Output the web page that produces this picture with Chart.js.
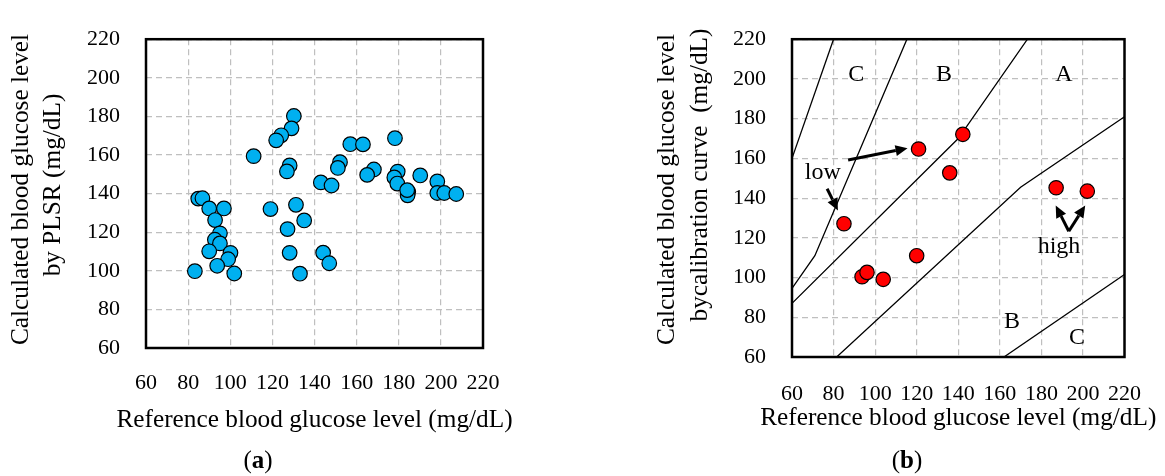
<!DOCTYPE html>
<html><head><meta charset="utf-8">
<script src="https://cdn.jsdelivr.net/npm/chart.js@4.4.1/dist/chart.umd.min.js"></script>
<style>
html,body{margin:0;padding:0;background:#fff;overflow:hidden;}
#cA{position:absolute;left:0;top:0;}
#cB{position:absolute;left:620px;top:0;}
</style></head><body>
<canvas id="cA" width="590" height="476"></canvas>
<canvas id="cB" width="545" height="476"></canvas>
<script>
// ---------- data ----------
const tickValues = [60, 80, 100, 120, 140, 160, 180, 200, 220];

// (a) PLSR vs reference
const plsrRefX = [130.2,129.1,124.2,121.8,111.1,157.0,163.0,178.2,128.2,126.9,152.1,151.1,143.0,148.1,168.2,165.0,179.5,177.9,179.3,190.2,198.3,184.5,184.2,184.0,198.3,201.6,207.3,84.8,86.8,90.0,97.0,119.1,131.2,92.8,135.1,127.2,95.1,92.7,95.1,90.0,100.1,99.0,93.8,83.2,101.9,128.2,144.1,147.0,133.1];
const plsrCalcY = [180.2,173.8,170.2,167.6,159.4,165.6,165.5,168.7,154.6,151.5,156.3,153.3,145.8,144.2,152.5,149.7,151.4,148.4,145.2,149.4,146.3,140.9,139.1,141.8,140.3,140.3,139.8,137.4,137.6,132.3,132.3,132.0,134.2,126.3,126.1,121.6,119.4,116.1,114.2,110.1,109.3,106.0,102.6,99.8,98.6,109.3,109.4,103.9,98.5];

// (b) calibration curve vs reference
const calibRefX = [120.9,142.2,135.9,187.1,202.1,85.0,120.0,93.7,96.1,103.9];
const calibCalcY = [164.7,172.1,152.7,145.2,143.5,127.1,111.0,100.4,102.6,99.1];

// error-grid zone boundaries (reference, calculated)
const cdUpperX = [60, 80];        const cdUpperY = [160, 220];
const bcUpperX = [60, 71, 115.3]; const bcUpperY = [94.5, 111, 220];
const abUpperX = [60, 140, 173.3];const abUpperY = [87, 170, 220];
const abLowerX = [81.5, 170, 220];const abLowerY = [60, 145.5, 181];
const bcLowerX = [162, 220];      const bcLowerY = [60, 101.5];

const zoneLabels = ['C', 'B', 'A', 'B', 'C'];
const noteLabels = ['low', 'high'];

const xTitle = 'Reference blood glucose level (mg/dL)';
const yTitleA = ['Calculated blood glucose level', 'by PLSR (mg/dL)'];
const yTitleB = ['Calculated blood glucose level', 'bycalibration curve  (mg/dL)'];

// ---------- helpers ----------
const FONT = "'Liberation Serif', 'Times New Roman', serif";
const toPts = (xs, ys) => xs.map((x, i) => ({x: x, y: ys[i]}));

function drawArrow(ctx, x1, y1, x2, y2) {
  const ang = Math.atan2(y2 - y1, x2 - x1);
  const hl = 12, hw = 5.5;
  const bx = x2 - hl * Math.cos(ang), by = y2 - hl * Math.sin(ang);
  ctx.beginPath(); ctx.moveTo(x1, y1); ctx.lineTo(bx, by);
  ctx.lineWidth = 3; ctx.strokeStyle = '#000'; ctx.stroke();
  ctx.beginPath();
  ctx.moveTo(x2, y2);
  ctx.lineTo(bx + hw * Math.sin(ang), by - hw * Math.cos(ang));
  ctx.lineTo(bx - hw * Math.sin(ang), by + hw * Math.cos(ang));
  ctx.closePath(); ctx.fillStyle = '#000'; ctx.fill();
}

const framePlugin = {
  id: 'frame',
  afterDraw(chart, args, opts) {
    const {ctx, chartArea: a} = chart;
    ctx.save();
    ctx.strokeStyle = '#000'; ctx.lineWidth = 2.5;
    ctx.strokeRect(a.left, a.top, a.right - a.left, a.bottom - a.top);
    ctx.fillStyle = '#000';
    // x axis title
    ctx.font = '25.3px ' + FONT; ctx.textAlign = 'center'; ctx.textBaseline = 'alphabetic';
    ctx.fillText(xTitle, (a.left + a.right) / 2, opts.xTitleBase);
    // y axis title (two lines)
    opts.yTitle.forEach((t, i) => {
      ctx.save();
      ctx.translate(opts.yTitleX[i], opts.yTitleY[i]);
      ctx.rotate(-Math.PI / 2);
      ctx.textBaseline = 'middle';
      ctx.fillText(t, 0, 0);
      ctx.restore();
    });
    // caption like (a)
    ctx.textBaseline = 'alphabetic';
    const reg = '25px ' + FONT, bold = 'bold 25px ' + FONT;
    ctx.font = reg; const wp = ctx.measureText('(').width, wq = ctx.measureText(')').width;
    ctx.font = bold; const wl = ctx.measureText(opts.letter).width;
    let x = opts.cx - (wp + wl + wq) / 2;
    ctx.textAlign = 'left';
    ctx.font = reg; ctx.fillText('(', x, opts.base); x += wp;
    ctx.font = bold; ctx.fillText(opts.letter, x, opts.base); x += wl;
    ctx.font = reg; ctx.fillText(')', x, opts.base);
    ctx.restore();
  }
};

const notesPlugin = {
  id: 'notes',
  afterDatasetsDraw(chart, args, opts) {
    if (!opts.enabled) return;
    const {ctx} = chart;
    const xs = chart.scales.x, ys = chart.scales.y;
    const px = v => xs.getPixelForValue(v), py = v => ys.getPixelForValue(v);
    ctx.save();
    ctx.fillStyle = '#000'; ctx.textAlign = 'center'; ctx.textBaseline = 'alphabetic';
    ctx.font = '24px ' + FONT;
    const zonePos = [[90.9, 199.1], [133.1, 199.1], [190.9, 199.1], [165.9, 74.8], [197.1, 66.7]];
    zoneLabels.forEach((t, i) => ctx.fillText(t, px(zonePos[i][0]), py(zonePos[i][1])));
    const notePos = [[74.8, 149.5], [188.5, 112.3]];
    noteLabels.forEach((t, i) => ctx.fillText(t, px(notePos[i][0]), py(notePos[i][1])));
    drawArrow(ctx, px(87), py(159.2), px(115.6), py(165.1));
    drawArrow(ctx, px(76.9), py(144.7), px(82.1), py(133.8));
    drawArrow(ctx, px(193.2), py(123.3), px(186.9), py(136.3));
    drawArrow(ctx, px(193.2), py(123.3), px(201.1), py(136.3));
    ctx.restore();
  }
};

function makeScales(xAxisH, yAxisW, xTickPad) {
  const grid = {color: '#bfbfbf', lineWidth: 1.2, drawTicks: false};
  const border = {display: false, dash: [6, 4]};
  return {
    x: {
      type: 'linear', min: 60, max: 220,
      afterBuildTicks: s => { s.ticks = tickValues.map(v => ({value: v})); },
      ticks: {color: '#000', font: {family: FONT, size: 22}, padding: xTickPad, maxRotation: 0},
      grid: grid, border: border, title: {display: false},
      afterFit: s => { s.height = xAxisH; }
    },
    y: {
      type: 'linear', min: 60, max: 220,
      afterBuildTicks: s => { s.ticks = tickValues.map(v => ({value: v})); },
      ticks: {color: '#000', font: {family: FONT, size: 22}, padding: 26},
      grid: grid, border: border, title: {display: false},
      afterFit: s => { s.width = yAxisW; }
    }
  };
}

Chart.defaults.font.family = FONT;

new Chart(document.getElementById('cA'), {
  type: 'scatter',
  data: {datasets: [{
    data: toPts(plsrRefX, plsrCalcY),
    backgroundColor: '#00b0f0', borderColor: '#000', borderWidth: 1.2, pointRadius: 7.3, pointHoverRadius: 7.3
  }]},
  options: {
    responsive: false, animation: false, events: [],
    layout: {padding: {left: 0, top: 22, right: 107, bottom: 42}},
    scales: makeScales(86, 146, 22),
    plugins: {legend: {display: false}, tooltip: {enabled: false},
              frame: {letter: 'a', cx: 258, base: 468, xTitleBase: 427,
                      yTitle: yTitleA, yTitleX: [21, 53], yTitleY: [189.5, 185]},
              notes: {enabled: false}}
  },
  plugins: [framePlugin, notesPlugin]
});

const lineDs = (xs, ys) => ({
  data: toPts(xs, ys), showLine: true, pointRadius: 0, borderColor: '#000', borderWidth: 1.3,
  backgroundColor: 'transparent', order: 2
});

new Chart(document.getElementById('cB'), {
  type: 'scatter',
  data: {datasets: [
    {data: toPts(calibRefX, calibCalcY), backgroundColor: '#ff0000', borderColor: '#000',
     borderWidth: 1.2, pointRadius: 7.2, pointHoverRadius: 7.2, order: 1},
    lineDs(cdUpperX, cdUpperY), lineDs(bcUpperX, bcUpperY), lineDs(abUpperX, abUpperY),
    lineDs(abLowerX, abLowerY), lineDs(bcLowerX, bcLowerY)
  ]},
  options: {
    responsive: false, animation: false, events: [],
    layout: {padding: {left: 0, top: 16, right: 31, bottom: 42}},
    scales: makeScales(77, 172, 24),
    plugins: {legend: {display: false}, tooltip: {enabled: false},
              frame: {letter: 'b', cx: 287, base: 468, xTitleBase: 425,
                      yTitle: yTitleB, yTitleX: [47, 80], yTitleY: [189.5, 175]},
              notes: {enabled: true}}
  },
  plugins: [framePlugin, notesPlugin]
});
</script>
</body></html>
